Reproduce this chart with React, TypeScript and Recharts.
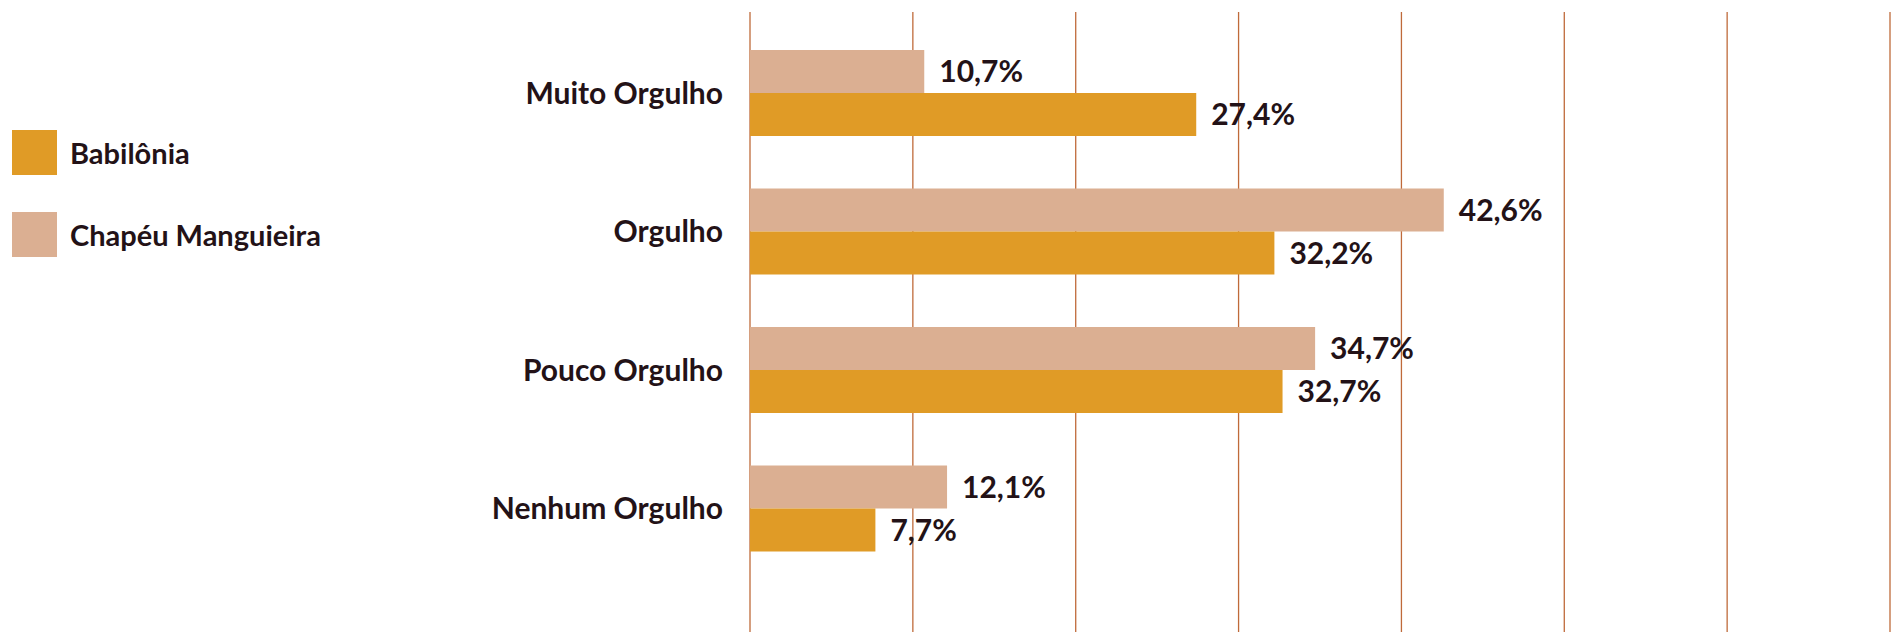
import React from "react";
import {
  BarChart,
  Bar,
  XAxis,
  YAxis,
  CartesianGrid,
  LabelList,
} from "recharts";

const categories = ["Muito Orgulho", "Orgulho", "Pouco Orgulho", "Nenhum Orgulho"];
const babilonia = [27.4, 32.2, 32.7, 7.7];
const chapeu = [10.7, 42.6, 34.7, 12.1];
const xTicks = [0, 10, 20, 30, 40, 50, 60, 70];

const COLOR_BABILONIA = "#E09B26";
const COLOR_CHAPEU = "#DBAF92";
const TEXT = "#231217";
const GRID = "#BF6A3A";
const FONT = "Lato, 'Noto Sans', sans-serif";

const data = categories.map((name, i) => ({
  name,
  babilonia: babilonia[i],
  chapeu: chapeu[i],
}));

const fmt = (v: number) => `${v.toFixed(1).replace(".", ",")}%`;

const legendItems = [
  { label: "Babilônia", color: COLOR_BABILONIA },
  { label: "Chapéu Manguieira", color: COLOR_CHAPEU },
];

// legend sits outside the chart so it doesn't push the plot area around
const LegendBox = () => (
  <div
    style={{
      position: "absolute",
      left: 12,
      top: 130,
      display: "flex",
      flexDirection: "column",
      gap: 37,
    }}
  >
    {legendItems.map((it) => (
      <div key={it.label} style={{ display: "flex", alignItems: "center" }}>
        <span
          style={{ display: "inline-block", width: 45, height: 45, backgroundColor: it.color }}
        />
        <span
          style={{
            marginLeft: 13,
            fontFamily: FONT,
            fontWeight: 700,
            fontSize: 29,
            color: TEXT,
          }}
        >
          {it.label}
        </span>
      </div>
    ))}
  </div>
);

const labelStyle = { fill: TEXT, fontFamily: FONT, fontWeight: 700, fontSize: 30 };

// x axis has no visible ticks, only the vertical grid lines
const NoTick = () => <g />;

export default function App() {
  return (
    <div
      style={{
        position: "absolute",
        left: 0,
        top: 0,
        width: 1899,
        height: 633,
        background: "#fff",
      }}
    >
      <BarChart
        width={1899}
        height={633}
        data={data}
        layout="vertical"
        margin={{ top: 12, right: 9, bottom: 0, left: 0 }}
        barCategoryGap={26}
        barGap={0}
      >
        <CartesianGrid horizontal={false} stroke={GRID} strokeWidth={1.3} />
        <XAxis
          type="number"
          domain={[0, 70]}
          ticks={xTicks}
          axisLine={false}
          tickLine={false}
          tick={<NoTick />}
          height={1}
        />
        <YAxis
          type="category"
          dataKey="name"
          width={750}
          axisLine={false}
          tickLine={false}
          tickSize={0}
          tickMargin={27}
          padding={{ top: 12, bottom: 54 }}
          tick={labelStyle}
        />
        <Bar dataKey="chapeu" fill={COLOR_CHAPEU} isAnimationActive={false}>
          <LabelList
            dataKey="chapeu"
            position="right"
            offset={15}
            formatter={fmt}
            style={labelStyle}
          />
        </Bar>
        <Bar dataKey="babilonia" fill={COLOR_BABILONIA} isAnimationActive={false}>
          <LabelList
            dataKey="babilonia"
            position="right"
            offset={15}
            formatter={fmt}
            style={labelStyle}
          />
        </Bar>
      </BarChart>
      <LegendBox />
    </div>
  );
}
